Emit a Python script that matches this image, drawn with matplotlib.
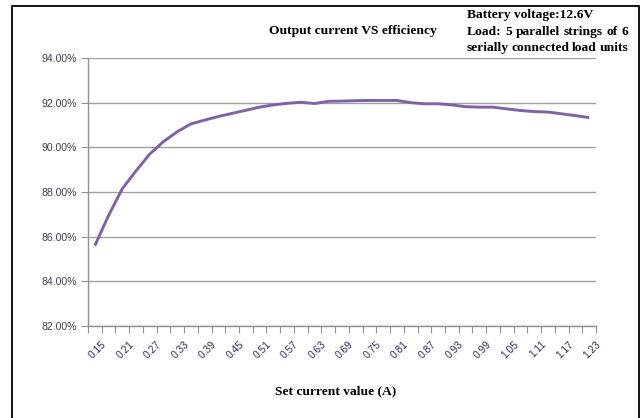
import numpy as np
import matplotlib
matplotlib.use("Agg")
import matplotlib.pyplot as plt
from matplotlib.patches import Rectangle
from matplotlib.ticker import FuncFormatter
from matplotlib.transforms import ScaledTranslation

# ---- data ----
currents = [0.15 + 0.03 * i for i in range(37)]
current_labels = ["%.2f" % c for c in currents]
efficiency = [85.6, 86.95, 88.15, 88.95, 89.7, 90.26, 90.7, 91.05, 91.22, 91.38,
              91.52, 91.66, 91.8, 91.9, 91.97, 92.02, 91.96, 92.06, 92.07, 92.09,
              92.1, 92.1, 92.1, 92.0, 91.95, 91.95, 91.9, 91.82, 91.8, 91.8,
              91.72, 91.65, 91.6, 91.58, 91.5, 91.42, 91.33]
y_ticks = [82, 84, 86, 88, 90, 92, 94]
title = "Output current VS efficiency"
xlabel = "Set current value (A)"
note_lines = ["Battery voltage:12.6V",
              "Load: 5 parallel strings of 6",
              "serially connected load units"]

W, H = 644, 418
fig = plt.figure(figsize=(W / 100, H / 100), dpi=100)
fig.patch.set_facecolor("white")

# outer frame
fig.patches.append(Rectangle((12 / W, -0.05), (638.5 - 12) / W, 1.05 - 6 / H,
                             transform=fig.transFigure, fill=False,
                             edgecolor="black", linewidth=1.3))

ax = fig.add_axes([88 / W, 1 - 326 / H, (596 - 88) / W, (326 - 58) / H])
x = np.arange(len(currents))
ax.plot(x, efficiency, color="#7E62A6", linewidth=2.1, solid_capstyle="butt")

ax.set_xlim(-0.5, len(currents) - 0.5)
ax.set_ylim(82, 94)
ax.set_yticks(y_ticks)
ax.yaxis.set_major_formatter(FuncFormatter(lambda v, p: "%.2f%%" % v))
ax.grid(axis="y", color="#A0A0A0", linewidth=1.0)
ax.set_axisbelow(True)

for s in ["top", "right"]:
    ax.spines[s].set_visible(False)
for s in ["left", "bottom"]:
    ax.spines[s].set_color("#909090")
    ax.spines[s].set_linewidth(1.0)

ax.tick_params(axis="y", length=5, color="#909090", labelsize=7.6,
               labelcolor="#404050", pad=3)
for lab in ax.get_yticklabels():
    lab.set_fontfamily("Liberation Sans")

# category boundary ticks
ax.set_xticks(np.arange(-0.5, len(currents), 1.0))
ax.set_xticklabels([])
ax.tick_params(axis="x", which="major", length=5, color="#909090")
ax.set_xticks(x[::2], minor=True)
ax.set_xticklabels(current_labels[::2], minor=True, rotation=45, ha="right",
                   va="center", rotation_mode="anchor", fontsize=7.4,
                   color="#303050", family="Liberation Sans")
ax.tick_params(axis="x", which="minor", length=0, pad=12)
offset = ScaledTranslation(10 / 100, 0, fig.dpi_scale_trans)
for t in ax.xaxis.get_minor_ticks():
    t.label1.set_transform(t.label1.get_transform() + offset)

FS = 9.7
fig.text(353 / W, 1 - 31 / H, title, ha="center", va="center",
         family="Liberation Serif", weight="bold", fontsize=FS)
fig.text(336 / W, 1 - 391 / H, xlabel, ha="center", va="center",
         family="Liberation Serif", weight="bold", fontsize=FS)

# justified note block
left_px, right_px = 467, 628
ys = [15, 32, 48]
fig.canvas.draw()
renderer = fig.canvas.get_renderer()
for k, (line, yp) in enumerate(zip(note_lines, ys)):
    if k == 0:
        fig.text(left_px / W, 1 - yp / H, line, ha="left", va="center",
                 family="Liberation Serif", weight="bold", fontsize=FS)
        continue
    words = line.split(" ")
    arts = [fig.text(0, 1 - yp / H, w_, ha="left", va="center",
                     family="Liberation Serif", weight="bold", fontsize=FS)
            for w_ in words]
    widths = [a.get_window_extent(renderer).width for a in arts]
    gap = (right_px - left_px - sum(widths)) / (len(words) - 1)
    pos = left_px
    for a, wd in zip(arts, widths):
        a.set_x(pos / W)
        pos += wd + gap

fig.savefig("out.png", dpi=100)
